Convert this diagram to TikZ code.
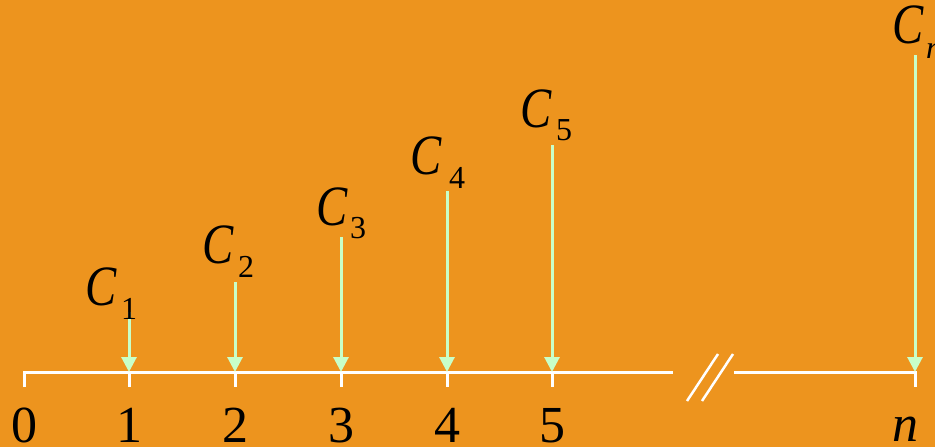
\documentclass[tikz,border=0pt]{standalone}
\usepackage{fontspec}
\setmainfont{Liberation Serif}
\usetikzlibrary{arrows.meta}
\definecolor{bgorange}{RGB}{237,148,30}
\definecolor{mint}{RGB}{200,255,200}
\tikzset{
  axisline/.style={draw=white,line width=3pt},
  cashflow/.style={draw=mint,line width=3pt,-{Triangle[width=15pt,length=15pt]}},
  bigC/.style={inner sep=0pt,anchor=base west,xscale=0.82,font=\fontsize{57}{57}\selectfont\itshape},
  subs/.style={inner sep=0pt,anchor=base west,font=\fontsize{32}{32}\selectfont},
  ticklabel/.style={inner sep=0pt,anchor=base,font=\fontsize{52}{52}\selectfont}
}
\begin{document}
\begin{tikzpicture}[x=1pt,y=-1pt]
\fill[bgorange] (0,0) rectangle (935,447);
\useasboundingbox (0,0) rectangle (935,447);
% axis points
\coordinate (t0) at (24,372);
\coordinate (t1) at (129,372);
\coordinate (t2) at (235,372);
\coordinate (t3) at (341,372);
\coordinate (t4) at (447,372);
\coordinate (t5) at (552,372);
\coordinate (tn) at (915,372);
\coordinate (brkL) at (673,372);
\coordinate (brkR) at (734,372);
% tick bottoms
\coordinate (b0) at (24,387);
\coordinate (b1) at (129,387);
\coordinate (b2) at (235,387);
\coordinate (b3) at (341,387);
\coordinate (b4) at (447,387);
\coordinate (b5) at (552,387);
\coordinate (bn) at (915,387);
% axis
\draw[axisline] (b0) -- (t0) -- (brkL);
\draw[axisline] (brkR) -- (tn) -- (bn);
\foreach \i in {1,...,5} \draw[axisline] (t\i) -- (b\i);
% break marks
\coordinate (s1a) at (687,401); \coordinate (s1b) at (718,354);
\coordinate (s2a) at (702,401); \coordinate (s2b) at (733,354);
\draw[draw=white,line width=2.5pt] (s1a) -- (s1b);
\draw[draw=white,line width=2.5pt] (s2a) -- (s2b);
% arrow tops
\coordinate (a1) at (129,312);
\coordinate (a2) at (235,282);
\coordinate (a3) at (341,237);
\coordinate (a4) at (447,191);
\coordinate (a5) at (552,145);
\coordinate (an) at (915,55);
\foreach \i in {1,...,5} \draw[cashflow] (a\i) -- (t\i);
\draw[cashflow] (an) -- (tn);
% C labels
\node[bigC] (c1) at (85,305) {C};
\node[subs] (c1s) at (121,319) {1};
\node[bigC] (c2) at (202,263) {C};
\node[subs] (c2s) at (238,277) {2};
\node[bigC] (c3) at (316,225) {C};
\node[subs] (c3s) at (350,238) {3};
\node[bigC] (c4) at (410,174) {C};
\node[subs] (c4s) at (449,188) {4};
\node[bigC] (c5) at (520,127) {C};
\node[subs] (c5s) at (556,140) {5};
\node[bigC] (cn) at (892,43) {C};
\node[subs,font=\fontsize{32}{32}\selectfont\itshape] (cns) at (926,58) {n};
% tick labels
\node[ticklabel] (l0) at (24,442) {0};
\node[ticklabel] (l1) at (129,442) {1};
\node[ticklabel] (l2) at (235,442) {2};
\node[ticklabel] (l3) at (341,442) {3};
\node[ticklabel] (l4) at (447,442) {4};
\node[ticklabel] (l5) at (552,442) {5};
\node[ticklabel,font=\fontsize{52}{52}\selectfont\itshape] (ln) at (905,441) {n};
\end{tikzpicture}
\end{document}
